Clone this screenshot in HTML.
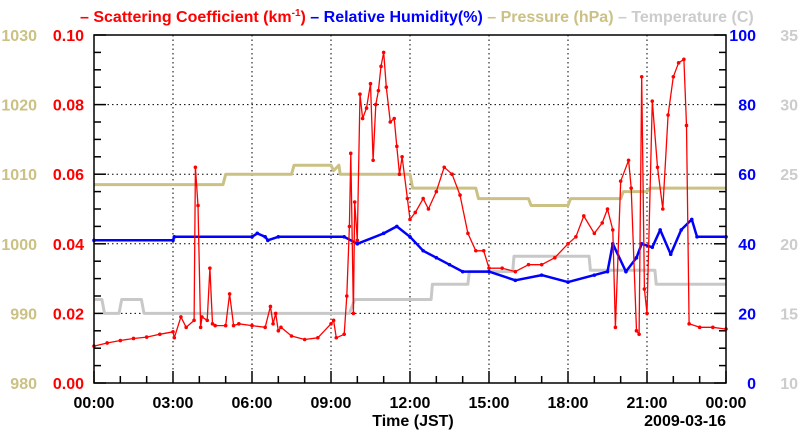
<!DOCTYPE html>
<html><head><meta charset="utf-8"><style>
body{margin:0;background:#fff;}
svg{display:block;font-family:"Liberation Sans",Arial,sans-serif;font-weight:bold;}
</style></head><body>
<svg id="c" width="800" height="434"></svg>
<script>
const scatT=[0,0.5,1,1.5,2,2.5,3,3.05,3.3,3.5,3.8,3.85,3.95,4.05,4.1,4.3,4.4,4.5,4.6,5.0,5.15,5.3,5.5,6.0,6.5,6.7,6.8,6.9,7.0,7.1,7.5,8.0,8.5,9.0,9.1,9.2,9.5,9.6,9.7,9.75,9.85,9.9,10.0,10.1,10.2,10.35,10.5,10.6,10.7,10.8,10.9,11.0,11.1,11.25,11.4,11.5,11.6,11.7,11.9,12.0,12.2,12.5,12.7,13.0,13.3,13.6,13.9,14.2,14.5,14.8,15.0,15.5,16.0,16.5,17.0,17.5,18.0,18.3,18.6,19.0,19.3,19.5,19.7,19.8,20.0,20.3,20.4,20.6,20.7,20.8,20.9,21.0,21.2,21.4,21.6,21.8,22.0,22.2,22.4,22.5,22.6,23.0,23.5,24.0];
const scatV=[0.0106,0.0115,0.0122,0.0128,0.0132,0.014,0.0147,0.013,0.019,0.016,0.018,0.062,0.051,0.016,0.019,0.018,0.033,0.017,0.0165,0.0165,0.0256,0.0165,0.017,0.0165,0.016,0.022,0.017,0.02,0.015,0.016,0.0135,0.0125,0.013,0.017,0.018,0.013,0.014,0.025,0.045,0.066,0.02,0.052,0.041,0.083,0.076,0.079,0.086,0.064,0.08,0.084,0.091,0.095,0.085,0.075,0.076,0.068,0.06,0.065,0.053,0.047,0.049,0.053,0.05,0.055,0.062,0.06,0.054,0.043,0.038,0.038,0.033,0.033,0.032,0.034,0.034,0.036,0.04,0.042,0.048,0.043,0.046,0.05,0.044,0.016,0.058,0.064,0.056,0.015,0.014,0.088,0.027,0.02,0.081,0.062,0.05,0.077,0.088,0.092,0.093,0.074,0.017,0.016,0.016,0.0155];
const rhT=[0,3,3.05,6,6.2,6.5,6.6,7,9.5,10,11,11.5,12,12.5,13,13.5,14,15,16,17,18,19,19.5,19.7,20.2,20.6,20.8,21.2,21.5,21.9,22.3,22.7,22.9,24];
const rhV=[41,41,42,42,43,42,41,42,42,40,43,45,42,38,36,34,32,32,29.5,31,29,31,32,40,32,36,40,39,44,37,44,47,42,42];
const presT=[0,4.9,5,7.5,7.6,9.0,9.1,9.3,9.35,12,12.1,14.5,14.6,16.5,16.6,18,18.1,20,20.1,21,21.1,24];
const presV=[1008.5,1008.5,1010,1010,1011.3,1011.3,1010.5,1011.3,1010,1010,1008,1008,1006.5,1006.5,1005.5,1005.5,1006.5,1006.5,1007.5,1007.5,1008,1008];
const tempT=[0,0.3,0.4,0.95,1.05,1.8,1.9,9.7,9.9,12.8,12.85,14.2,14.25,15.9,15.95,18.8,18.85,21.3,21.35,24];
const tempV=[16,16,15,15,16,16,15,15,16,16,17.1,17.1,18,18,19.1,19.1,18.1,18.1,17.1,17.1];
const xTicks=["00:00","03:00","06:00","09:00","12:00","15:00","18:00","21:00","00:00"];
const leftScat=["0.00","0.02","0.04","0.06","0.08","0.10"];
const leftPres=["980","990","1000","1010","1020","1030"];
const rightRH=["0","20","40","60","80","100"];
const rightT=["10","15","20","25","30","35"];

const L=94,R=726,T=35,B=383,NS="http://www.w3.org/2000/svg",svg=document.getElementById('c');
const X=h=>L+h/24*(R-L);
const yS=v=>B-v/0.1*(B-T), yRH=v=>B-v/100*(B-T), yP=v=>B-(v-980)/50*(B-T), yT=v=>B-(v-10)/25*(B-T);
function el(tag,a,parent){const e=document.createElementNS(NS,tag);for(const k in a)e.setAttribute(k,a[k]);(parent||svg).appendChild(e);return e;}
function txt(s,x,y,fill,anchor,size){const t=el('text',{x:x,y:y,fill:fill,'text-anchor':anchor,'font-size':size||16});t.textContent=s;return t;}
// grid
const grid=el('g',{});
for(let i=1;i<8;i++)el('line',{x1:X(i*3),x2:X(i*3),y1:T,y2:B,stroke:'#000','stroke-dasharray':'1.5,3','stroke-width':1},grid);
for(let i=1;i<5;i++)el('line',{x1:L,x2:R,y1:yS(i*0.02),y2:yS(i*0.02),stroke:'#000','stroke-dasharray':'1.5,3','stroke-width':1},grid);
// ticks
const ax=el('g',{stroke:'#000','stroke-width':1.5});
for(let i=0;i<=24;i++){const l=i%3?7:12;el('line',{x1:X(i),x2:X(i),y1:B,y2:B-l},ax);}
for(let i=0;i<=20;i++){const l=i%4?7:12,y=yS(i*0.005);el('line',{x1:L,x2:L+l,y1:y,y2:y},ax);el('line',{x1:R,x2:R-l,y1:y,y2:y},ax);}
function series(tArr,vArr,yf,color,w,name,dots){
  const g=el('g',{});
  const pts=tArr.map((t,i)=>X(t).toFixed(1)+','+yf(vArr[i]).toFixed(1)).join(' ');
  el('polyline',{points:pts,fill:'none',stroke:color,'stroke-width':w,'stroke-linejoin':'round'},g);
  if(dots)tArr.forEach((t,i)=>el('circle',{cx:X(t),cy:yf(vArr[i]),r:1.8,fill:color},g));
}
series(tempT,tempV,yT,'#c8c8c8',3,'temperature-line',false);
series(presT,presV,yP,'#cbc184',3,'pressure-line',false);
series(rhT,rhV,yRH,'#0000ff',2.5,'humidity-line',true);
series(scatT,scatV,yS,'#ff0000',1.3,'scattering-line',true);
el('rect',{x:L,y:T,width:R-L,height:B-T,fill:'none',stroke:'#000','stroke-width':1.5});
// labels
for(let i=0;i<6;i++){
  const y=yS(i*0.02)+6;
  txt(leftScat[i],84,y,'#ff0000','end');
  txt(leftPres[i],37,y,'#cbc184','end');
  txt(rightRH[i],756,y,'#0000ff','end');
  txt(rightT[i],798,y,'#cccccc','end');
}
xTicks.forEach((s,i)=>{const t=txt(s,X(i*3),408,'#000','middle');});
txt('Time (JST)',413,426,'#000','middle');
txt('2009-03-16',726,426,'#000','end');
const lg=el('text',{x:80,y:22,'font-size':16,});
lg.innerHTML='<tspan fill="#ff0000">– Scattering Coefficient (km<tspan dy="-6" font-size="10">-1</tspan><tspan dy="6">)</tspan></tspan> <tspan fill="#0000ff">– Relative Humidity(%)</tspan> <tspan fill="#cbc184">– Pressure (hPa)</tspan> <tspan fill="#cccccc">– Temperature (C)</tspan>';
</script>
</body></html>
